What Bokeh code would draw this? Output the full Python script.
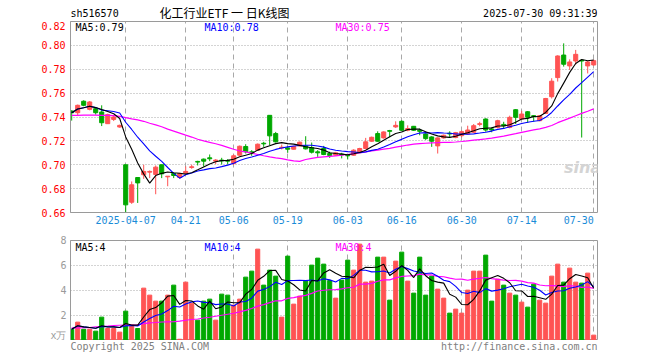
import pandas as pd
from bokeh.plotting import figure
from bokeh.layouts import column
from bokeh.models import Range1d, FixedTicker, Label, PrintfTickFormatter, ColumnDataSource
from bokeh.embed import file_html
from bokeh.resources import INLINE

# ---------------- data ----------------
symbol = "sh516570"
title_cn = "化工行业ETF 一 日K线图"
timestamp = "2025-07-30 09:31:39"

opens = [0.7450, 0.7436, 0.7532, 0.7464, 0.7470, 0.7442, 0.7344, 0.7380, 0.7316, 0.7000,
         0.6686, 0.6893, 0.6916, 0.6938, 0.6918, 0.7000, 0.6899, 0.6927, 0.6893, 0.6930,
         0.6977, 0.7028, 0.7047, 0.7058, 0.7030, 0.7039, 0.7036, 0.7011, 0.7080, 0.7153,
         0.7108, 0.7122, 0.7180, 0.7414, 0.7261, 0.7141, 0.7141, 0.7130, 0.7158, 0.7158,
         0.7144, 0.7108, 0.7136, 0.7094, 0.7080, 0.7089, 0.7080, 0.7080, 0.7108, 0.7136,
         0.7197, 0.7261, 0.7225, 0.7286, 0.7317, 0.7364, 0.7289, 0.7322, 0.7289, 0.7258,
         0.7233, 0.7158, 0.7225, 0.7264, 0.7228, 0.7244, 0.7258, 0.7272, 0.7338, 0.7383,
         0.7300, 0.7313, 0.7338, 0.7313, 0.7461, 0.7383, 0.7444, 0.7411, 0.7369, 0.7430,
         0.7570, 0.7730, 0.7919, 0.7828, 0.7869, 0.7875, 0.7828, 0.7836]
highs = [0.7456, 0.7504, 0.7540, 0.7534, 0.7484, 0.7498, 0.7428, 0.7414, 0.7336, 0.7000,
         0.6860, 0.6893, 0.7000, 0.6952, 0.6994, 0.7000, 0.6904, 0.6932, 0.6932, 0.6986,
         0.7000, 0.7033, 0.7052, 0.7086, 0.7047, 0.7058, 0.7047, 0.7086, 0.7161, 0.7172,
         0.7122, 0.7178, 0.7192, 0.7414, 0.7275, 0.7169, 0.7153, 0.7158, 0.7194, 0.7239,
         0.7186, 0.7122, 0.7158, 0.7110, 0.7108, 0.7100, 0.7086, 0.7130, 0.7142, 0.7225,
         0.7236, 0.7280, 0.7280, 0.7292, 0.7364, 0.7372, 0.7330, 0.7325, 0.7303, 0.7264,
         0.7239, 0.7230, 0.7253, 0.7280, 0.7275, 0.7286, 0.7327, 0.7341, 0.7360, 0.7389,
         0.7313, 0.7377, 0.7360, 0.7411, 0.7466, 0.7452, 0.7450, 0.7416, 0.7416, 0.7560,
         0.7725, 0.7917, 0.8017, 0.7883, 0.7962, 0.7880, 0.7870, 0.7880]
lows = [0.7370, 0.7408, 0.7490, 0.7456, 0.7420, 0.7324, 0.7344, 0.7366, 0.7310, 0.6602,
        0.6672, 0.6680, 0.6882, 0.6888, 0.6753, 0.6888, 0.6820, 0.6888, 0.6882, 0.6924,
        0.6966, 0.6994, 0.6983, 0.7030, 0.7005, 0.7002, 0.7002, 0.6997, 0.7075, 0.7094,
        0.7075, 0.7119, 0.7150, 0.7164, 0.7186, 0.7128, 0.7100, 0.7128, 0.7153, 0.7128,
        0.7094, 0.7066, 0.7080, 0.7058, 0.7075, 0.7053, 0.7044, 0.7075, 0.7103, 0.7130,
        0.7192, 0.7192, 0.7219, 0.7230, 0.7308, 0.7286, 0.7280, 0.7283, 0.7247, 0.7208,
        0.7150, 0.7094, 0.7219, 0.7233, 0.7222, 0.7230, 0.7252, 0.7266, 0.7322, 0.7277,
        0.7272, 0.7305, 0.7300, 0.7305, 0.7341, 0.7377, 0.7350, 0.7361, 0.7364, 0.7425,
        0.7555, 0.7697, 0.7822, 0.7794, 0.7840, 0.7228, 0.7765, 0.7830]
closes = [0.7436, 0.7498, 0.7498, 0.7526, 0.7436, 0.7352, 0.7420, 0.7400, 0.7330, 0.6664,
          0.6832, 0.6848, 0.6944, 0.6944, 0.6980, 0.6924, 0.6904, 0.6910, 0.6927, 0.6944,
          0.6983, 0.7022, 0.7030, 0.7050, 0.7039, 0.7033, 0.7030, 0.7075, 0.7155, 0.7108,
          0.7103, 0.7172, 0.7175, 0.7242, 0.7192, 0.7147, 0.7130, 0.7153, 0.7189, 0.7133,
          0.7105, 0.7100, 0.7086, 0.7078, 0.7100, 0.7083, 0.7075, 0.7122, 0.7136, 0.7192,
          0.7230, 0.7197, 0.7275, 0.7280, 0.7330, 0.7289, 0.7303, 0.7289, 0.7280, 0.7219,
          0.7197, 0.7225, 0.7247, 0.7258, 0.7269, 0.7277, 0.7291, 0.7327, 0.7344, 0.7291,
          0.7291, 0.7369, 0.7327, 0.7397, 0.7397, 0.7425, 0.7397, 0.7402, 0.7411, 0.7555,
          0.7700, 0.7911, 0.7842, 0.7861, 0.7925, 0.7869, 0.7861, 0.7872]
volumes = [0.90, 1.47, 0.90, 0.90, 0.75, 1.87, 0.96, 0.96, 0.67, 2.35,
           1.23, 0.96, 4.19, 3.63, 3.15, 3.15, 3.63, 4.43, 0.10, 4.67,
           2.99, 1.63, 3.15, 3.31, 1.63, 3.71, 3.63, 2.83, 3.31, 5.07,
           5.55, 7.31, 4.43, 5.63, 5.15, 1.87, 6.75, 2.91, 3.55, 4.75,
           6.03, 6.59, 6.11, 4.80, 3.39, 4.83, 6.43, 5.63, 7.71, 4.67,
           4.75, 6.67, 6.67, 3.23, 6.35, 7.07, 4.75, 3.79, 6.67, 3.63,
           5.15, 4.11, 3.39, 2.19, 2.51, 2.19, 4.03, 5.55, 5.55, 6.83,
           3.15, 4.91, 4.43, 3.79, 3.63, 3.07, 2.67, 4.51, 3.23, 2.99,
           5.15, 6.11, 4.67, 5.79, 4.67, 4.59, 5.39, 0.43]
# first 29 MA30 points depend on days before the window
ma30_price_head = [0.7414, 0.7414, 0.7416, 0.7416, 0.7416, 0.7414, 0.7414, 0.7412, 0.7405, 0.7395,
                   0.7385, 0.7376, 0.7364, 0.7348, 0.7334, 0.7318, 0.7298, 0.7282, 0.7265, 0.7248,
                   0.7232, 0.7214, 0.7200, 0.7188, 0.7176, 0.7162, 0.7146, 0.7130, 0.7115]
ma30_vol_head = [1.01, 1.01, 1.02, 1.03, 1.10, 1.12, 1.15, 1.20, 1.22, 1.23,
                 1.24, 1.25, 1.35, 1.41, 1.44, 1.48, 1.49, 1.50, 1.55, 1.62,
                 1.68, 1.72, 1.80, 1.86, 1.94, 2.02, 2.10, 2.18, 2.29]

price_ticks = [0.66, 0.68, 0.70, 0.72, 0.74, 0.76, 0.78, 0.80, 0.82]
price_grid = [0.68, 0.70, 0.72, 0.74, 0.76, 0.78, 0.80]
vol_ticks = [0, 2, 4, 6, 8]
vol_tick_labels = {0: "x万", 2: "2", 4: "4", 6: "6", 8: "8"}
vol_grid = [2, 4, 6]
date_idx = [9, 19, 27, 36, 46, 55, 65, 75, 87]
date_labels = ["2025-04-07", "04-21", "05-06", "05-19", "06-03", "06-16", "06-30", "07-14", "07-30"]

# ---------------- styling ----------------
RED = "#ff5353"
GREEN = "#00a800"
GRID = "#a8a8a8"
BORDER = "#9a9a9a"
MONO = "DejaVu Sans Mono"
CJK = "Noto Sans CJK SC"
W = 660
L, R = 70, 63          # frame left / right borders (frame width 527 px)
FW = W - L - R
SLOT = 6               # pixels per trading day
CHAR = 6               # width of one 10px mono character

n = len(closes)
idx = list(range(n))
colors = [RED if c >= o else GREEN for o, c in zip(opens, closes)]

c = pd.Series(closes)
ma5 = c.rolling(5, min_periods=1).mean()
ma10 = c.rolling(10, min_periods=1).mean()
ma30 = c.rolling(30).mean()
ma30.iloc[:29] = ma30_price_head

v = pd.Series(volumes)
vma5 = v.rolling(5, min_periods=1).mean()
vma10 = v.rolling(10, min_periods=1).mean()
vma30 = v.rolling(30).mean()
vma30.iloc[:29] = ma30_vol_head

src = ColumnDataSource(dict(
    x=idx, high=highs, low=lows,
    top=[max(o, cc) for o, cc in zip(opens, closes)],
    bottom=[min(o, cc) for o, cc in zip(opens, closes)],
    vol=volumes, color=colors,
    ma5=list(ma5), ma10=list(ma10), ma30=list(ma30),
    vma5=list(vma5), vma10=list(vma10), vma30=list(vma30),
))

x_range = Range1d(-0.2, -0.2 + FW / SLOT)

# date label anchors: centred on their grid line, except the last one which ends at it
label_pos = list(date_idx[:-1]) + [date_idx[-1] - len(date_labels[-1]) * CHAR / 2 / SLOT]
label_map = {pos: lab for pos, lab in zip(label_pos, date_labels)}


def text(p, x, y, s, color, align="left", font=MONO, size="10px", fstyle="normal", x_units="screen"):
    p.add_layout(Label(x=x, y=y, x_units=x_units, y_units="screen", text=s, text_color=color,
                       text_align=align, text_baseline="middle", text_font=font,
                       text_font_size=size, text_font_style=fstyle))


def blank(height, xr):
    p = figure(width=W, height=height, x_range=xr, y_range=Range1d(0, 1),
               x_axis_location=None, y_axis_location=None,
               output_backend="svg", toolbar_location=None,
               min_border_left=L, min_border_right=R, min_border_top=0, min_border_bottom=0)
    p.outline_line_color = None
    p.grid.visible = False
    p.background_fill_color = "white"
    p.border_fill_color = "white"
    return p


def style(p):
    p.background_fill_color = "white"
    p.border_fill_color = "white"
    p.outline_line_color = BORDER
    p.outline_line_width = 1
    ax = p.yaxis[0]
    ax.axis_line_color = BORDER
    ax.major_tick_out = 0
    ax.major_tick_in = 0
    ax.minor_tick_out = 0
    ax.minor_tick_in = 0
    ax.major_label_text_font = MONO
    ax.major_label_text_font_size = "10px"
    p.xgrid.ticker = FixedTicker(ticks=date_idx)
    p.xgrid.grid_line_color = GRID
    p.xgrid.grid_line_dash = "5 4"
    p.ygrid.grid_line_color = GRID
    p.ygrid.grid_line_dash = "1 2"


# ---------------- header (y 0..21) ----------------
hdr = blank(21, Range1d(0, FW))
text(hdr, 0, 8, symbol, "#000000")
text(hdr, 154, 9, title_cn, "#000000", align="center", font=CJK, size="12px")
text(hdr, FW, 8, timestamp, "#000000", align="right")

# ---------------- price panel (frame y 21..212, dates below) ----------------
p1 = figure(width=W, height=211, x_range=x_range, y_range=Range1d(0.66, 0.82),
            output_backend="svg", toolbar_location=None,
            min_border_left=L, min_border_right=R, min_border_top=0, min_border_bottom=20)
style(p1)
p1.yaxis.ticker = FixedTicker(ticks=price_ticks)
p1.yaxis.formatter = PrintfTickFormatter(format="%.2f")
p1.yaxis.major_label_text_color = "#ff0000"
p1.yaxis.major_label_standoff = 5
p1.ygrid.ticker = FixedTicker(ticks=price_grid)
xa = p1.xaxis[0]
xa.ticker = FixedTicker(ticks=label_pos)
xa.major_label_overrides = label_map
xa.axis_line_color = None
xa.major_tick_out = 0
xa.major_tick_in = 0
xa.minor_tick_out = 0
xa.minor_tick_in = 0
xa.major_label_standoff = 3
xa.major_label_text_font = MONO
xa.major_label_text_font_size = "10px"
xa.major_label_text_color = "#1a8cd8"

p1.segment(x0="x", y0="low", x1="x", y1="high", color="color", line_width=1, source=src)
p1.vbar(x="x", width=0.68, top="top", bottom="bottom", fill_color="color",
        line_color="color", line_width=1, source=src)
p1.line("x", "ma30", color="#ff00ff", line_width=1.2, source=src)
p1.line("x", "ma10", color="#0000ff", line_width=1.1, source=src)
p1.line("x", "ma5", color="#000000", line_width=1.1, source=src)

text(p1, 5, 185, f"MA5:{ma5.iloc[-1]:.2f}", "#000000")
text(p1, 134, 185, f"MA10:{ma10.iloc[-1]:.2f}", "#0000ff")
text(p1, 265, 185, f"MA30:{ma30.iloc[-1]:.2f}", "#ff00ff")
text(p1, 512, 45, "sina", "#d4d4d4", align="center", font="DejaVu Sans", size="16px", fstyle="bold italic")

# ---------------- volume panel (frame y 240..340) ----------------
p2 = figure(width=W, height=108, x_range=x_range, y_range=Range1d(0, 8),
            output_backend="svg", toolbar_location=None,
            min_border_left=L, min_border_right=R, min_border_top=8, min_border_bottom=0)
style(p2)
p2.xaxis.visible = False
p2.yaxis.ticker = FixedTicker(ticks=vol_ticks)
p2.yaxis.major_label_overrides = vol_tick_labels
p2.yaxis.major_label_text_color = "#9a9a9a"
p2.yaxis.major_label_standoff = 4
p2.ygrid.ticker = FixedTicker(ticks=vol_grid)

p2.vbar(x="x", width=0.68, top="vol", bottom=0, fill_color="color",
        line_color="color", line_width=1, source=src)
p2.line("x", "vma30", color="#ff00ff", line_width=1.2, source=src)
p2.line("x", "vma10", color="#0000ff", line_width=1.1, source=src)
p2.line("x", "vma5", color="#000000", line_width=1.1, source=src)

text(p2, 5, 93, f"MA5:{vma5.iloc[-1]:.0f}", "#000000")
text(p2, 134, 93, f"MA10:{vma10.iloc[-1]:.0f}", "#0000ff")
text(p2, 265, 93, f"MA30:{vma30.iloc[-1]:.0f}", "#ff00ff")

# ---------------- footer (y 340..360) ----------------
ftr = blank(20, Range1d(0, FW))
text(ftr, 0, 14, "Copyright 2025 SINA.COM", "#808080")
text(ftr, FW, 14, "http://finance.sina.com.cn", "#808080", align="right")

layout = column(hdr, p1, p2, ftr, spacing=0)
open("out.html", "w").write(file_html(layout, INLINE))
